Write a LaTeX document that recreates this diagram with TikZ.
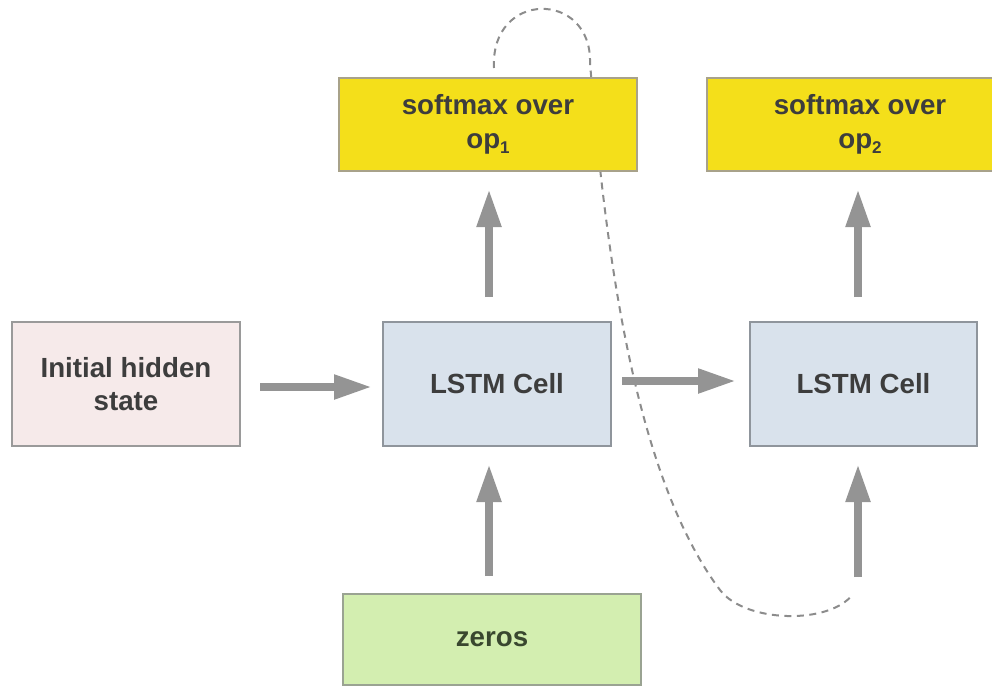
\documentclass[tikz,border=0pt]{standalone}
\usepackage{fontspec}
\setmainfont{Liberation Sans}
\usetikzlibrary{arrows.meta}
\definecolor{txt}{HTML}{3D3D3D}
\definecolor{ztxt}{HTML}{39472F}
\definecolor{bordergray}{HTML}{9A9A9A}
\definecolor{initfill}{HTML}{F6EAEA}
\definecolor{lstmfill}{HTML}{D9E2EC}
\definecolor{lstmborder}{HTML}{8F959C}
\definecolor{smfill}{HTML}{F4DF1A}
\definecolor{smborder}{HTML}{A8A28A}
\definecolor{zfill}{HTML}{D3EEB0}
\definecolor{zborder}{HTML}{9AA392}
\definecolor{arrgray}{HTML}{949494}
\definecolor{dashgray}{HTML}{8C8C8C}
\newcommand{\opsub}[1]{\raisebox{-5.5pt}{\fontsize{17}{17}\selectfont #1}}
\begin{document}
\begin{tikzpicture}[x=1pt,y=-1pt,
  box/.style={draw, line width=2pt, align=center, inner sep=0pt,
    font=\fontsize{27.7}{33.5}\selectfont\bfseries, text=txt},
  initbox/.style={box, fill=initfill, draw=bordergray, minimum width=228pt, minimum height=124pt},
  lstmbox/.style={box, fill=lstmfill, draw=lstmborder, minimum width=228pt, minimum height=124pt},
  smbox/.style={box, fill=smfill, draw=smborder, minimum width=298pt, minimum height=93pt},
  zbox/.style={box, fill=zfill, draw=zborder, text=ztxt, minimum width=298pt, minimum height=91pt},
  arr/.style={draw=arrgray, fill=arrgray, line width=8pt, -{Triangle[length=38pt,width=23pt]}},
  feedback/.style={draw=dashgray, line width=2pt, dash pattern=on 7pt off 5.5pt}
]
\useasboundingbox (0,0) rectangle (992,686);
\coordinate (fbstart) at (494,68);
\coordinate (fbtop) at (590,63);
\coordinate (fbmid) at (720,590);
\coordinate (fbend) at (853,594);
\coordinate (in2) at (858,577);
\draw[feedback] (fbstart) .. controls (490,-10) and (592,-10) .. (fbtop)
  .. controls (604,230) and (630,470) .. (fbmid)
  .. controls (745,623) and (830,625) .. (fbend);

\node[initbox] (init) at (126,384) {Initial hidden\\state};
\node[lstmbox] (lstm1) at (497,384) {LSTM Cell};
\node[lstmbox, minimum width=227pt] (lstm2) at (863.5,384) {LSTM Cell};
\node[smbox] (sm1) at (488,124.5) {softmax over\\op\opsub{1}};
\node[smbox, minimum width=306pt] (sm2) at (860,124.5) {softmax over\\op\opsub{2}};
\node[zbox] (zeros) at (492,639.5) {zeros};

\draw[arr, shorten <=19pt, shorten >=10pt] ([yshift=-3pt]init.east) -- ([yshift=-3pt]lstm1.west);
\draw[arr, shorten <=10pt, shorten >=13pt] ([yshift=3pt]lstm1.east) -- ([yshift=3pt]lstm2.west);
\draw[arr, shorten <=24pt, shorten >=17pt] ([xshift=-8pt]lstm1.north) -- ([xshift=-8pt]lstm1.north |- sm1.south);
\draw[arr, shorten <=17pt, shorten >=17pt] ([xshift=-3pt]zeros.north) -- ([xshift=-3pt]zeros.north |- lstm1.south);
\draw[arr, shorten <=24pt, shorten >=17pt] ([xshift=-5.5pt]lstm2.north) -- ([xshift=-5.5pt]lstm2.north |- sm2.south);
\draw[arr, shorten >=17pt] (in2) -- (in2 |- lstm2.south);
\end{tikzpicture}
\end{document}
